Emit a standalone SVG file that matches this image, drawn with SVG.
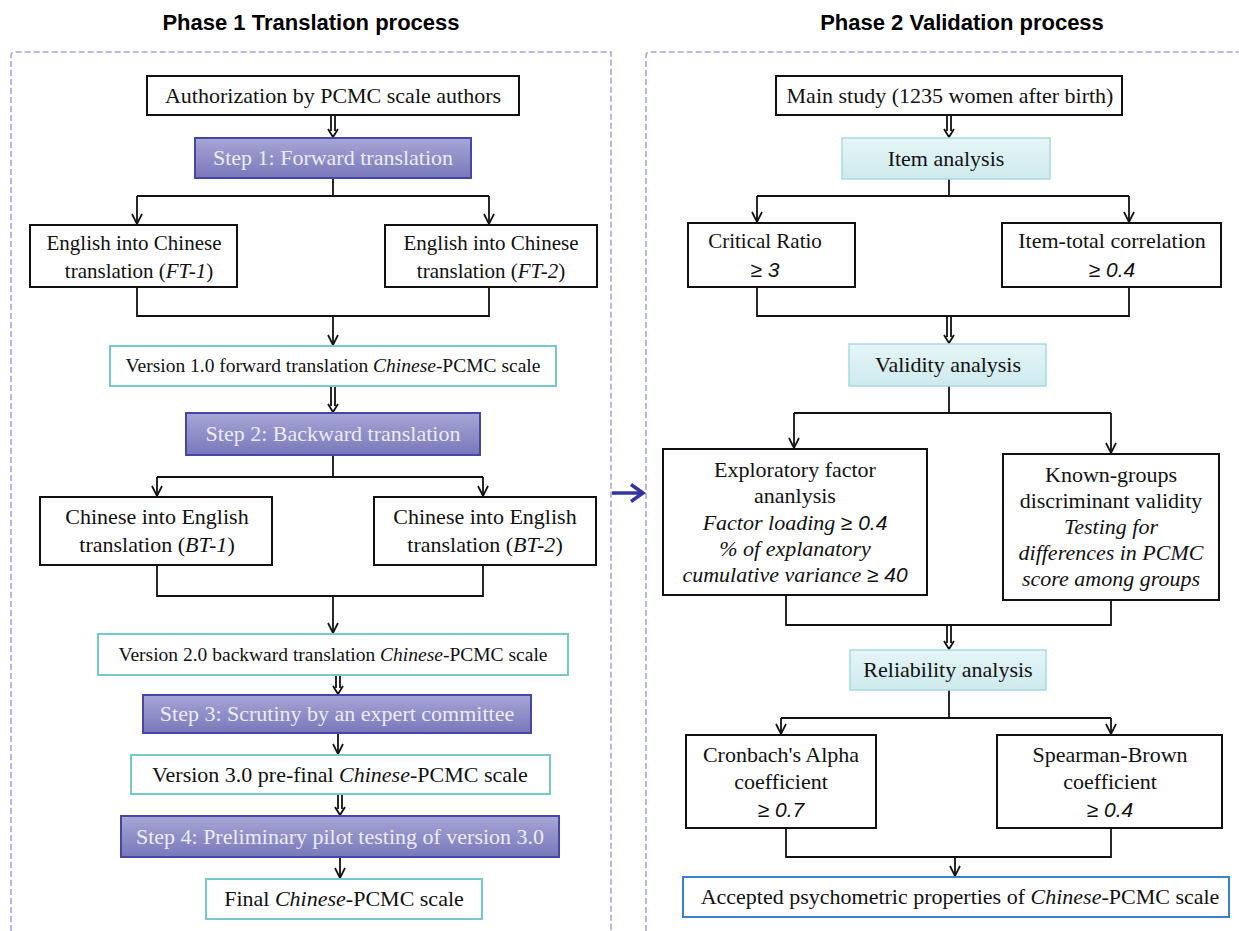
<svg xmlns="http://www.w3.org/2000/svg" width="1239" height="931" viewBox="0 0 1239 931">
<style>
.t{font-family:"Liberation Serif","Times New Roman",serif;font-size:22px;fill:#111;text-anchor:middle}
.sm{font-size:19.5px}
.md{font-size:21px}
.st{font-family:"Liberation Serif","Times New Roman",serif;font-size:22px;fill:#ececf6;text-anchor:middle}
.ti{font-family:"Liberation Sans",Arial,sans-serif;font-size:22px;font-weight:bold;fill:#000;text-anchor:middle}
.it{font-style:italic}
.sx{font-family:"Liberation Sans",Arial,sans-serif;font-style:italic;font-size:21px}
.bx{fill:#fff;stroke:#111;stroke-width:2}
.vb{fill:#fff;stroke:#74c9cc;stroke-width:2}
.sb{fill:url(#pg);stroke:#4646a4;stroke-width:2}
.cb{fill:url(#cg);stroke:#a6dade;stroke-width:1.5}
.ab{fill:#fff;stroke:#3a80d2;stroke-width:2}
.ln{fill:none;stroke:#111;stroke-width:1.8}
.hd{fill:none;stroke:#111;stroke-width:1.8}
.dash{fill:none;stroke:#a3a3ee;stroke-width:1.6;stroke-dasharray:6 3}
</style>
<defs>
<linearGradient id="pg" x1="0" y1="0" x2="0" y2="1"><stop offset="0" stop-color="#a6a6d6"/><stop offset="1" stop-color="#7878ba"/></linearGradient>
<linearGradient id="cg" x1="0" y1="0" x2="0" y2="1"><stop offset="0" stop-color="#e6f5f7"/><stop offset="1" stop-color="#cdeaee"/></linearGradient>
<marker id="ah" viewBox="0 0 12 12" refX="11" refY="6" markerWidth="12" markerHeight="12" markerUnits="userSpaceOnUse" orient="auto"><path d="M1,1 L11,6 L1,11" fill="none" stroke="#111" stroke-width="1.7"/></marker>
</defs>
<rect width="1239" height="931" fill="#fff"/>

<g id="frames">
<path class="dash" d="M11,931 V56 Q11,52 15,52 H611 V931"/>
<path class="dash" d="M646,931 V56 Q646,52 650,52 H1239"/>
<text class="ti" x="311" y="30">Phase 1 Translation process</text>
<text class="ti" x="962" y="30">Phase 2 Validation process</text>
</g>

<g id="connectors">
<!-- left -->
<path class="ln" d="M331,115 V131 M335,115 V131"/><path class="hd" d="M328,129 L333,137 L338,129"/>
<path class="ln" d="M333,178 V196 M137,196 H489"/>
<path class="ln" d="M137,196 V224" marker-end="url(#ah)"/>
<path class="ln" d="M489,196 V224" marker-end="url(#ah)"/>
<path class="ln" d="M137,287 V316 H489 V287"/>
<path class="ln" d="M333,316 V345" marker-end="url(#ah)"/>
<path class="ln" d="M331,386 V406 M335,386 V406"/><path class="hd" d="M328,404 L333,412 L338,404"/>
<path class="ln" d="M333,455 V477 M157,477 H483"/>
<path class="ln" d="M157,477 V496" marker-end="url(#ah)"/>
<path class="ln" d="M483,477 V496" marker-end="url(#ah)"/>
<path class="ln" d="M157,565 V596 H483 V565"/>
<path class="ln" d="M333,596 V633" marker-end="url(#ah)"/>
<path class="ln" d="M336,675 V688 M340,675 V688"/><path class="hd" d="M333,686 L338,694 L343,686"/>
<path class="ln" d="M338,733 V754" marker-end="url(#ah)"/>
<path class="ln" d="M338,794 V809 M342,794 V809"/><path class="hd" d="M335,807 L340,815 L345,807"/>
<path class="ln" d="M340,857 V878" marker-end="url(#ah)"/>
<!-- right -->
<path class="ln" d="M947,115 V131 M951,115 V131"/><path class="hd" d="M944,129 L949,137 L954,129"/>
<path class="ln" d="M949,179 V196 M757,196 H1129"/>
<path class="ln" d="M757,196 V222" marker-end="url(#ah)"/>
<path class="ln" d="M1129,196 V222" marker-end="url(#ah)"/>
<path class="ln" d="M757,287 V316 H1129 V287"/>
<path class="ln" d="M947,316 V337 M951,316 V337"/><path class="hd" d="M944,335 L949,343 L954,335"/>
<path class="ln" d="M949,386 V413 M794,413 H1111"/>
<path class="ln" d="M794,413 V448" marker-end="url(#ah)"/>
<path class="ln" d="M1111,413 V453" marker-end="url(#ah)"/>
<path class="ln" d="M786,595 V625 H1111 V600"/>
<path class="ln" d="M947,625 V643 M951,625 V643"/><path class="hd" d="M944,641 L949,649 L954,641"/>
<path class="ln" d="M949,690 V718 M781,718 H1111"/>
<path class="ln" d="M781,718 V734" marker-end="url(#ah)"/>
<path class="ln" d="M1111,718 V734" marker-end="url(#ah)"/>
<path class="ln" d="M786,828 V857 H1111 V828"/>
<path class="ln" d="M955,857 V876" marker-end="url(#ah)"/>
<!-- phase link -->
<path d="M612,493 H641" stroke="#34349c" stroke-width="3.5" fill="none"/>
<path d="M631,484.5 L643,493 L631,501.5" stroke="#34349c" stroke-width="3.5" fill="none"/>
</g>

<g id="n-auth"><rect class="bx" x="147" y="76" width="372" height="39"/><text class="t" x="333" y="103">Authorization by PCMC scale authors</text></g>
<g id="n-step1"><rect class="sb" x="195" y="138" width="276" height="40"/><text class="st" x="333" y="165">Step 1: Forward translation</text></g>
<g id="n-ft1"><rect class="bx" x="30" y="225" width="207" height="62"/><text class="t md" x="134" y="250">English into Chinese</text><text class="t md" x="139" y="278">translation (<tspan class="it">FT-1</tspan>)</text></g>
<g id="n-ft2"><rect class="bx" x="385" y="225" width="212" height="62"/><text class="t md" x="491" y="250">English into Chinese</text><text class="t md" x="491" y="278">translation (<tspan class="it">FT-2</tspan>)</text></g>
<g id="n-v1"><rect class="vb" x="110" y="346" width="446" height="40"/><text class="t sm" x="333" y="372">Version 1.0 forward translation <tspan class="it">Chinese</tspan>-PCMC scale</text></g>
<g id="n-step2"><rect class="sb" x="186" y="413" width="294" height="42"/><text class="st" x="333" y="441">Step 2: Backward translation</text></g>
<g id="n-bt1"><rect class="bx" x="40" y="497" width="232" height="68"/><text class="t" x="157" y="524">Chinese into English</text><text class="t" x="157" y="552">translation (<tspan class="it">BT-1</tspan>)</text></g>
<g id="n-bt2"><rect class="bx" x="374" y="497" width="222" height="68"/><text class="t" x="485" y="524">Chinese into English</text><text class="t" x="485" y="552">translation (<tspan class="it">BT-2</tspan>)</text></g>
<g id="n-v2"><rect class="vb" x="98" y="634" width="470" height="41"/><text class="t sm" x="333" y="661">Version 2.0 backward translation <tspan class="it">Chinese</tspan>-PCMC scale</text></g>
<g id="n-step3"><rect class="sb" x="143" y="695" width="388" height="38"/><text class="st" x="337" y="721">Step 3: Scrutiny by an expert committee</text></g>
<g id="n-v3"><rect class="vb" x="131" y="755" width="419" height="39"/><text class="t" x="340" y="782">Version 3.0 pre-final <tspan class="it">Chinese</tspan>-PCMC scale</text></g>
<g id="n-step4"><rect class="sb" x="121" y="816" width="438" height="41"/><text class="st" x="340" y="844">Step 4: Preliminary pilot testing of version 3.0</text></g>
<g id="n-final"><rect class="vb" x="206" y="879" width="276" height="40"/><text class="t" x="344" y="906">Final <tspan class="it">Chinese</tspan>-PCMC scale</text></g>

<g id="n-main"><rect class="bx" x="776" y="76" width="346" height="39"/><text class="t" x="950" y="103">Main study (1235 women after birth)</text></g>
<g id="n-item"><rect class="cb" x="842" y="138" width="208" height="41"/><text class="t" x="946" y="166">Item analysis</text></g>
<g id="n-cr"><rect class="bx" x="688" y="223" width="167" height="64"/><text class="t md" x="765" y="248">Critical Ratio</text><text class="t" x="765" y="277"><tspan class="sx">≥ 3</tspan></text></g>
<g id="n-itc"><rect class="bx" x="1002" y="223" width="219" height="64"/><text class="t" x="1112" y="248">Item-total correlation</text><text class="t" x="1112" y="277"><tspan class="sx">≥ 0.4</tspan></text></g>
<g id="n-val"><rect class="cb" x="849" y="344" width="197" height="42"/><text class="t" x="948" y="372">Validity analysis</text></g>
<g id="n-efa"><rect class="bx" x="663" y="449" width="264" height="146"/>
<text class="t" x="795" y="477">Exploratory factor</text>
<text class="t" x="795" y="503">ananlysis</text>
<text class="t" x="795" y="530"><tspan class="it">Factor loading </tspan><tspan class="sx">≥ 0.4</tspan></text>
<text class="t it" x="795" y="556">% of explanatory</text>
<text class="t" x="795" y="582"><tspan class="it">cumulative variance </tspan><tspan class="sx">≥ 40</tspan></text></g>
<g id="n-kg"><rect class="bx" x="1003" y="454" width="216" height="146"/>
<text class="t" x="1111" y="482">Known-groups</text>
<text class="t" x="1111" y="508">discriminant validity</text>
<text class="t it" x="1111" y="534">Testing for</text>
<text class="t it" x="1111" y="560">differences in PCMC</text>
<text class="t it" x="1111" y="586">score among groups</text></g>
<g id="n-rel"><rect class="cb" x="850" y="650" width="196" height="40"/><text class="t" x="948" y="677">Reliability analysis</text></g>
<g id="n-cron"><rect class="bx" x="686" y="735" width="190" height="93"/><text class="t" x="781" y="762">Cronbach's Alpha</text><text class="t" x="781" y="789">coefficient</text><text class="t" x="781" y="817"><tspan class="sx">≥ 0.7</tspan></text></g>
<g id="n-sb"><rect class="bx" x="997" y="735" width="225" height="93"/><text class="t" x="1110" y="762">Spearman-Brown</text><text class="t" x="1110" y="789">coefficient</text><text class="t" x="1110" y="817"><tspan class="sx">≥ 0.4</tspan></text></g>
<g id="n-acc"><rect class="ab" x="683" y="877" width="546" height="40"/><text class="t" x="960" y="904">Accepted psychometric properties of <tspan class="it">Chinese</tspan>-PCMC scale</text></g>
</svg>
